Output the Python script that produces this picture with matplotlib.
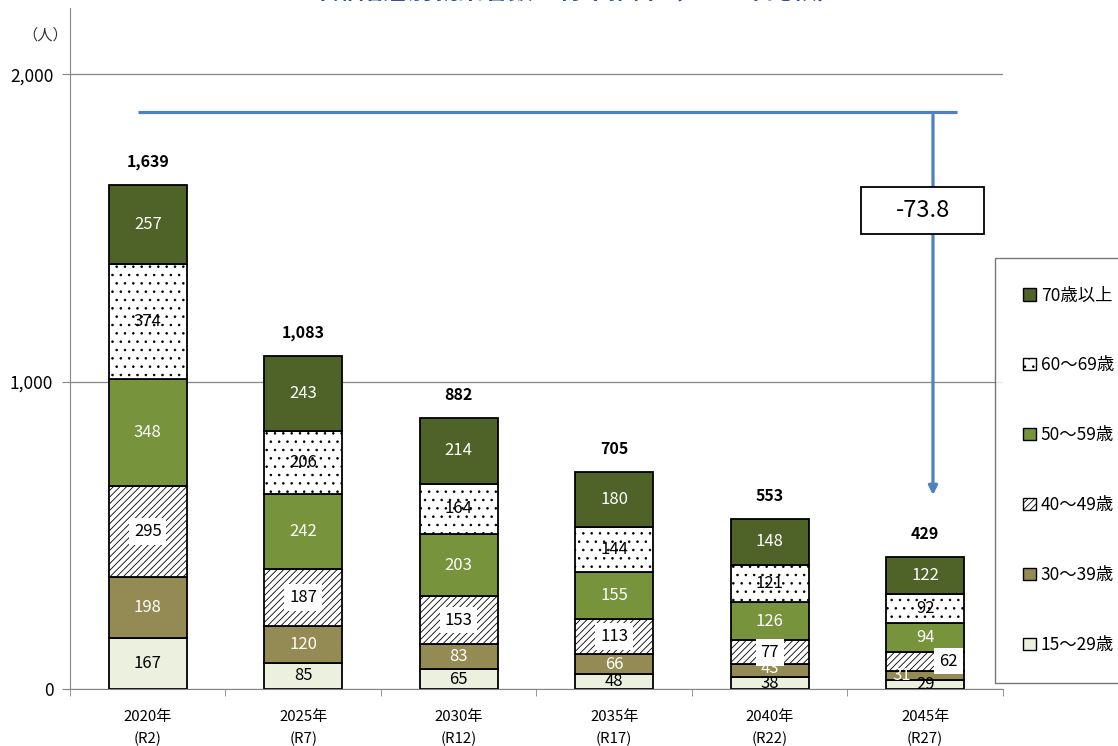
import numpy as np
import matplotlib
matplotlib.use('Agg')
import matplotlib.pyplot as plt
from matplotlib.patches import Rectangle, Patch

plt.rcParams['font.family'] = ['Noto Sans CJK JP', 'DejaVu Sans']
plt.rcParams['hatch.linewidth'] = 0.6

# データ
years = ['2020年\n(R2)', '2025年\n(R7)', '2030年\n(R12)', '2035年\n(R17)', '2040年\n(R22)', '2045年\n(R27)']
age_15_29 = [167, 85, 65, 48, 38, 29]
age_30_39 = [198, 120, 83, 66, 43, 31]
age_40_49 = [295, 187, 153, 113, 77, 62]
age_50_59 = [348, 242, 203, 155, 126, 94]
age_60_69 = [374, 206, 164, 144, 121, 92]
age_70 = [257, 243, 214, 180, 148, 122]
totals = [1639, 1083, 882, 705, 553, 429]
change_label = '-73.8'

series = [
    ('15〜29歳', age_15_29, '#EBF1DE', None, 'black'),
    ('30〜39歳', age_30_39, '#948A54', None, 'white'),
    ('40〜49歳', age_40_49, 'white', '/////', 'black'),
    ('50〜59歳', age_50_59, '#77933C', None, 'white'),
    ('60〜69歳', age_60_69, 'white', '..', 'black'),
    ('70歳以上', age_70, '#4F6228', None, 'white'),
]

fig = plt.figure(figsize=(11.18, 7.46), dpi=100)
ax = fig.add_axes([0.0626, 0.0764, 0.8345, 0.9126])

x = np.arange(len(years))
bottom = np.zeros(len(years))
handles = []
for name, vals, color, hatch, tcolor in series:
    vals = np.array(vals, dtype=float)
    ax.bar(x, vals, 0.5, bottom=bottom, color=color, edgecolor='black',
           linewidth=1.3, hatch=hatch, zorder=3)
    for i, v in enumerate(vals):
        cx = x[i]
        cy = bottom[i] + v / 2
        # 小さい区間の位置調整
        if name == '30〜39歳' and i == 5:
            cx -= 0.15
        if name == '40〜49歳' and i == 5:
            cx += 0.15
        if name == '30〜39歳' and i == 4:
            cy += 8
        bbox = None
        if hatch == '/////':
            bbox = dict(facecolor='white', edgecolor='none', pad=3.5)
        ax.text(cx, cy, f'{int(v)}', ha='center', va='center', fontsize=12,
                color=tcolor, bbox=bbox, zorder=5)
    bottom += vals
    handles.append(Patch(facecolor=color, edgecolor='black', hatch=hatch, label=name))

for i, t in enumerate(totals):
    ax.text(x[i], bottom[i] + 75, f'{t:,}', ha='center', va='center',
            fontsize=11.5, fontweight='bold', zorder=5)

# 軸
ax.set_xlim(-0.5, 5.5)
ax.set_ylim(0, 2215)
ax.set_yticks([0, 1000, 2000])
ax.set_yticklabels(['0', '1,000', '2,000'], fontsize=12.5)
ax.set_xticks(x)
ax.set_xticklabels(years, fontsize=10.8, linespacing=1.7)
ax.set_xticks(np.arange(-0.5, 6, 1), minor=True)
ax.tick_params(axis='x', which='major', length=0, pad=15)
ax.tick_params(axis='x', which='minor', length=5, color='#868686', direction='out')
ax.tick_params(axis='y', length=6, color='#868686', direction='out', pad=6)
ax.grid(axis='y', color='#868686', linewidth=0.9, zorder=0)
for s in ['top', 'right']:
    ax.spines[s].set_visible(False)
for s in ['left', 'bottom']:
    ax.spines[s].set_color('#868686')
    ax.spines[s].set_zorder(4)

# 減少率の矢印
blue = '#4F81BD'
ax.plot([-0.063, 5.204], [1876, 1876], color=blue, lw=2.3, zorder=4, solid_capstyle='butt')
ax.annotate('', xy=(5.05, 622), xytext=(5.05, 1876),
            arrowprops=dict(arrowstyle='-|>', color=blue, lw=2.3, mutation_scale=13),
            zorder=4)
ax.add_patch(Rectangle((4.59, 1480), 0.79, 152, facecolor='white', edgecolor='black',
                       linewidth=1.3, zorder=6))
ax.text(4.985, 1556, change_label, ha='center', va='center', fontsize=17, zorder=7)

fig.text(45 / 1118, 1 - 35 / 746, '（人）', ha='center', va='center', fontsize=11, color='#333333')
fig.text(0.514, 1.010, '年齢階層別就業者数の将来推計（2020年比較）', ha='center', va='center',
         fontsize=18, fontweight='bold', color='#2F5597')

leg = fig.legend(handles=handles[::-1], loc='upper left', bbox_to_anchor=(0.89, 0.654),
                 fontsize=12.5, frameon=True, fancybox=False, edgecolor='#555555',
                 labelspacing=2.99, borderpad=1.64, handlelength=0.7, handleheight=0.7,
                 handletextpad=0.3, borderaxespad=0)
leg.get_frame().set_linewidth(1.0)

fig.savefig('out.png', dpi=100)
